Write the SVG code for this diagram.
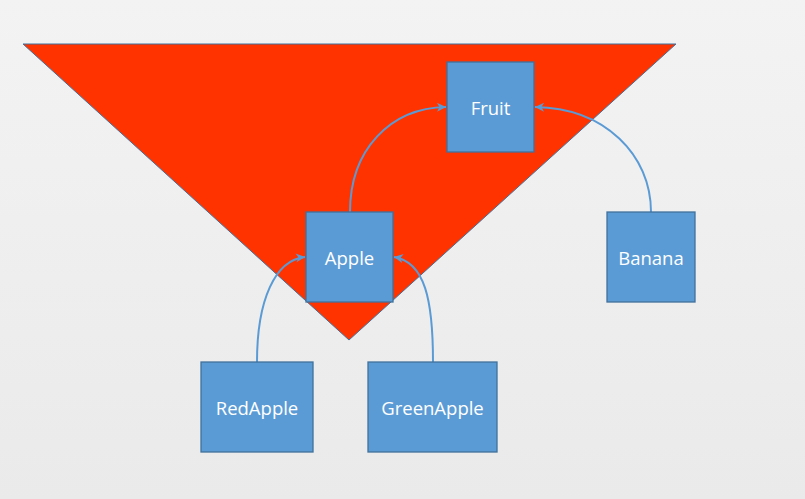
<svg xmlns="http://www.w3.org/2000/svg" width="805" height="499" viewBox="0 0 805 499">
<defs>
<linearGradient id="bg" x1="0" y1="0" x2="0" y2="1">
<stop offset="0" stop-color="#F3F3F3"/>
<stop offset="1" stop-color="#EAEAEA"/>
</linearGradient>
<marker id="arr" markerUnits="userSpaceOnUse" markerWidth="12" markerHeight="12" viewBox="0 0 12 12" refX="10" refY="6" orient="auto">
<path d="M1,1.5 L10,6 L1,10.5 L3.5,6 Z" fill="#5B9BD5"/>
</marker>
</defs>
<style>
.node rect{fill:#5B9BD5;stroke:#41719C;stroke-width:1.3}
.node text{fill:#FFFFFF;font-family:"Open Sans","Noto Sans","DejaVu Sans",sans-serif;font-size:18.5px;text-anchor:middle;dominant-baseline:central}
.edge{fill:none;stroke:#5B9BD5;stroke-width:2;marker-end:url(#arr)}
</style>
<rect x="0" y="0" width="805" height="499" fill="url(#bg)"/>
<polygon id="triangle" points="23,44 676,44 349,340" fill="#FF3300" stroke="#41719C" stroke-width="1"/>
<g id="connectors">
<path class="edge" d="M350,212 C350,150 390,108 446,107"/>
<path class="edge" d="M651,212 C651,155 605,108 535,107"/>
<path class="edge" d="M257,362 C257,300 275,260 305,257"/>
<path class="edge" d="M433,362 C433,300 425,262 394,257"/>
</g>
<g id="Fruit" class="node"><rect x="447" y="62" width="87" height="90"/><text x="490.5" y="107">Fruit</text></g>
<g id="Apple" class="node"><rect x="306" y="212" width="87" height="90"/><text x="349.5" y="257">Apple</text></g>
<g id="Banana" class="node"><rect x="607" y="212" width="88" height="90"/><text x="651" y="257">Banana</text></g>
<g id="RedApple" class="node"><rect x="201" y="362" width="112" height="90"/><text x="257" y="407">RedApple</text></g>
<g id="GreenApple" class="node"><rect x="368" y="362" width="129" height="90"/><text x="432.5" y="407">GreenApple</text></g>
</svg>
